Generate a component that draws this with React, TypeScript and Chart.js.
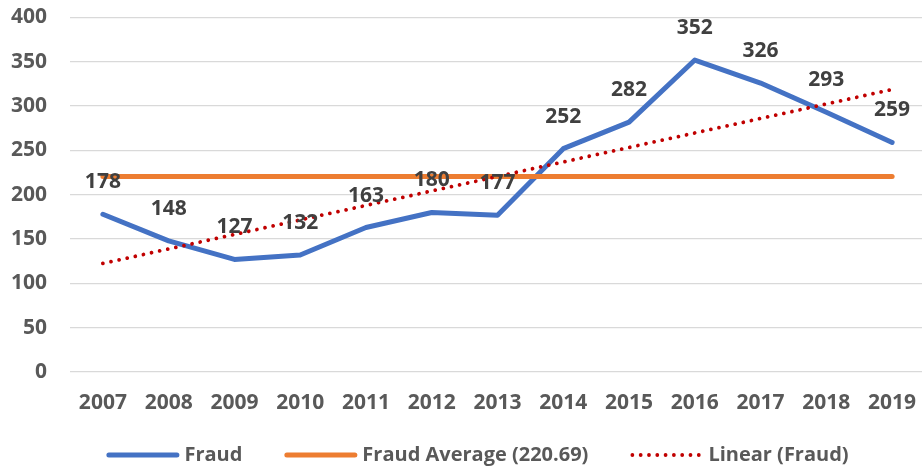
import React, { useEffect, useRef } from "react";
import { Chart, registerables } from "chart.js";

Chart.register(...registerables);

const years = ["2007", "2008", "2009", "2010", "2011", "2012", "2013", "2014", "2015", "2016", "2017", "2018", "2019"];
const fraud = [178, 148, 127, 132, 163, 180, 177, 252, 282, 352, 326, 293, 259];
const fraudAverage = [220.69, 220.69, 220.69, 220.69, 220.69, 220.69, 220.69, 220.69, 220.69, 220.69, 220.69, 220.69, 220.69];
// Linear trendline endpoints (2007 and 2019)
const trendLine = [122.5, null, null, null, null, null, null, null, null, null, null, null, 318.8];
const yMin = 0;
const yMax = 400;
const yStep = 50;

const FONT = "'Open Sans', 'DejaVu Sans', sans-serif";
const FONT_SIZE = 21;
const LEGEND_FONT_SIZE = 20;

const dataLabelPlugin = {
  id: "dataLabels",
  afterDatasetsDraw(chart: any) {
    const ctx = chart.ctx;
    const meta = chart.getDatasetMeta(0);
    const ds = chart.data.datasets[0];
    ctx.save();
    ctx.font = `bold ${FONT_SIZE}px ${FONT}`;
    ctx.fillStyle = "#404040";
    ctx.textAlign = "center";
    ctx.textBaseline = "middle";
    meta.data.forEach((pt: any, i: number) => {
      ctx.fillText(String(ds.data[i]), pt.x, pt.y - 32);
    });
    ctx.restore();
  },
};

const legendPlugin = {
  id: "customLegend",
  afterDraw(chart: any) {
    const ctx = chart.ctx;
    ctx.save();
    ctx.font = `bold ${LEGEND_FONT_SIZE}px ${FONT}`;
    const sample = 73;
    const gapText = 5;
    const gapItem = 42;
    const items = chart.data.datasets.map((ds: any) => ({ ds, w: ctx.measureText(ds.label).width }));
    const total =
      items.reduce((s: number, it: any) => s + sample + gapText + it.w, 0) + gapItem * (items.length - 1);
    let x = chart.width / 2 - total / 2;
    const y = chart.height - 17;
    items.forEach((it: any) => {
      const ds = it.ds;
      ctx.save();
      ctx.strokeStyle = ds.borderColor;
      ctx.lineWidth = ds.borderWidth;
      ctx.lineCap = "round";
      ctx.setLineDash(ds.borderDash || []);
      ctx.beginPath();
      const half = ds.borderDash ? 2 : ds.borderWidth / 2;
      ctx.moveTo(x + half, y);
      ctx.lineTo(x + sample - half, y);
      ctx.stroke();
      ctx.restore();
      x += sample + gapText;
      ctx.fillStyle = "#595959";
      ctx.textAlign = "left";
      ctx.textBaseline = "middle";
      ctx.fillText(ds.label, x, y);
      x += it.w + gapItem;
    });
    ctx.restore();
  },
};

export default function App() {
  const canvasRef = useRef<HTMLCanvasElement | null>(null);

  useEffect(() => {
    if (!canvasRef.current) return;
    const chart = new Chart(canvasRef.current, {
      type: "line",
      data: {
        labels: years,
        datasets: [
          {
            label: "Fraud",
            data: fraud,
            borderColor: "#4472C4",
            backgroundColor: "#4472C4",
            borderWidth: 5,
            pointRadius: 0,
            tension: 0,
            borderCapStyle: "round",
            borderJoinStyle: "round",
            order: 3,
          },
          {
            label: "Fraud Average (220.69)",
            data: fraudAverage,
            borderColor: "#ED7D31",
            backgroundColor: "#ED7D31",
            borderWidth: 5,
            pointRadius: 0,
            borderCapStyle: "round",
            order: 2,
          },
          {
            label: "Linear (Fraud)",
            data: trendLine,
            borderColor: "#C00000",
            backgroundColor: "#C00000",
            borderWidth: 3.8,
            borderDash: [0.001, 8.3],
            borderCapStyle: "round",
            pointRadius: 0,
            spanGaps: true,
            order: 1,
          },
        ],
      },
      options: {
        animation: false,
        responsive: true,
        maintainAspectRatio: false,
        layout: { padding: { left: 0, right: 30, top: 17.5, bottom: 60 } },
        plugins: {
          legend: { display: false },
          tooltip: { enabled: false },
        },
        scales: {
          x: {
            offset: true,
            grid: { display: false, drawTicks: false },
            border: { display: false },
            ticks: {
              font: { family: FONT, size: FONT_SIZE, weight: "bold" },
              color: "#595959",
              padding: 18,
              maxRotation: 0,
              autoSkip: false,
            },
            afterFit: (s: any) => {
              s.height = 40;
            },
          },
          y: {
            min: yMin,
            max: yMax,
            grid: { color: "#D9D9D9", lineWidth: 1.3, drawTicks: false },
            border: { display: false },
            ticks: {
              stepSize: yStep,
              font: { family: FONT, size: FONT_SIZE, weight: "bold" },
              color: "#595959",
              padding: 23,
            },
            afterFit: (s: any) => {
              s.width = 70;
              s.paddingTop = 0;
              s.paddingBottom = 0;
            },
          },
        },
      },
      plugins: [dataLabelPlugin, legendPlugin],
    });
    return () => chart.destroy();
  }, []);

  return (
    <div style={{ position: "fixed", left: 0, top: 0, width: 922, height: 472, overflow: "hidden", background: "#fff" }}>
      <div style={{ position: "relative", width: 955, height: 472 }}>
        <canvas ref={canvasRef} />
      </div>
    </div>
  );
}
